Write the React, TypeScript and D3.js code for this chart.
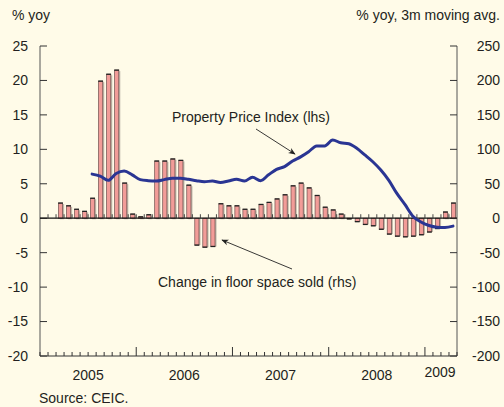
import React from "react";
import * as d3 from "d3";

const monthCount = 52; // Jan 2005 - Apr 2009
const yearLabels = ["2005", "2006", "2007", "2008", "2009"];
const leftTicks = [25, 20, 15, 10, 5, 0, -5, -10, -15, -20];
const rightTicks = [250, 200, 150, 100, 50, 0, -50, -100, -150, -200];

// Change in floor space sold (% yoy, 3m moving avg, rhs)
const floorSpace: (number | null)[] = [
  null, null, 22, 18, 13, 10, 29, 199, 209, 215, 51, 6,
  2, 5, 83, 83, 86, 84, 48, -39, -42, -41, 21, 18,
  18, 13, 13, 20, 23, 28, 34, 47, 51, 44, 33, 16,
  12, 6, -1, -5, -9, -11, -16, -23, -26, -27, -26, -24,
  -20, -15, 9, 22,
];

// Property price index (% yoy, lhs)
const priceIndex: (number | null)[] = [
  null, null, null, null, null, null, 6.4, 6.1, 5.5, 6.5, 6.85, 6.3,
  5.6, 5.45, 5.4, 5.6, 5.8, 5.8, 5.65, 5.45, 5.3, 5.4, 5.2, 5.4,
  5.65, 5.4, 5.95, 5.45, 6.3, 7.1, 7.5, 8.3, 8.9, 9.65, 10.5, 10.5,
  11.35, 10.95, 10.8, 10.15, 9.2, 8.2, 7.0, 5.5, 3.6, 2.0, 0.3, -0.55,
  -1.05, -1.3, -1.35, -1.15,
];

const W = 504;
const H = 407;
const left = 40;
const right = 457;
const top = 46;
const bottom = 356;
const font = "'Liberation Sans', Arial, Helvetica, sans-serif";
const textColor = "#231f20";
const fs = 14;

export default function App() {
  const x = d3.scaleLinear().domain([0, monthCount]).range([left, right]);
  const yL = d3.scaleLinear().domain([-20, 25]).range([bottom, top]);
  const yR = d3.scaleLinear().domain([-200, 250]).range([bottom, top]);
  const bw = 4.2;

  const lineGen = d3
    .line<number | null>()
    .defined((d) => d !== null)
    .x((_, i) => x(i + 0.5))
    .y((d) => yL(d as number))
    .curve(d3.curveMonotoneX);

  const monthIdx = d3.range(monthCount + 1);
  const zeroY = yR(0);

  return (
    <svg
      width={W}
      height={H}
      style={{ position: "fixed", left: 0, top: 0, background: "#fffbe8" }}
      fontFamily={font}
    >
      <defs>
        <marker id="arr" viewBox="0 0 10 10" refX="9" refY="5" markerWidth="8" markerHeight="8" orient="auto-start-reverse">
          <path d="M0,1 L10,5 L0,9 L3,5 Z" fill="#222" />
        </marker>
      </defs>
      <rect x={0} y={0} width={W} height={H} fill="#fffbe8" />

      {/* headers */}
      <text x={12} y={20} fontSize={fs} fill={textColor}>% yoy</text>
      <text x={500} y={20} fontSize={fs} fill={textColor} textAnchor="end">% yoy, 3m moving avg.</text>

      {/* left axis */}
      <line x1={left} x2={left} y1={top} y2={bottom} stroke="#555" strokeWidth={1} />
      {leftTicks.map((t) => (
        <g key={"l" + t}>
          <line x1={left} x2={left + 7} y1={yL(t)} y2={yL(t)} stroke="#333" strokeWidth={1} />
          <text x={28} y={yL(t)} dy="0.35em" fontSize={fs} textAnchor="end" fill={textColor}>{t}</text>
        </g>
      ))}

      {/* right axis */}
      <line x1={right} x2={right} y1={top} y2={bottom} stroke="#555" strokeWidth={1} />
      {rightTicks.map((t) => (
        <g key={"r" + t}>
          <line x1={right - 7} x2={right} y1={yR(t)} y2={yR(t)} stroke="#333" strokeWidth={1} />
          <text x={500} y={yR(t)} dy="0.35em" fontSize={fs} textAnchor="end" fill={textColor}>{t}</text>
        </g>
      ))}

      {/* bottom axis */}
      <line x1={left} x2={right} y1={bottom} y2={bottom} stroke="#333" strokeWidth={1} />
      {monthIdx.map((i) => (
        <line
          key={"bt" + i}
          x1={x(i)}
          x2={x(i)}
          y1={bottom}
          y2={bottom - (i % 12 === 0 && i > 0 && i < monthCount ? 9 : 4)}
          stroke="#333"
          strokeWidth={1}
        />
      ))}
      {yearLabels.map((yl, k) => {
        const s = k * 12;
        const e = Math.min(s + 12, monthCount);
        const cx = (x(s) + x(e)) / 2 + (k === 4 ? -1 : 0);
        return (
          <text key={yl} x={cx} y={k === 4 ? 372 : 375} dy="0.35em" fontSize={fs} textAnchor="middle" fill={textColor}>
            {yl}
          </text>
        );
      })}

      {/* bars */}
      {floorSpace.map((v, i) => {
        if (v === null) return null;
        const cx = x(i + 0.5) + 0.5;
        const y0 = yR(0);
        const y1 = yR(v);
        const yTop = Math.min(y0, y1);
        const h = Math.abs(y1 - y0);
        return (
          <g key={"b" + i}>
            <rect x={cx - bw / 2 + 1.5} y={yTop + (v > 0 ? 1 : 0)} width={bw} height={h} fill="#a89f92" opacity={0.75} />
            <rect x={cx - bw / 2} y={yTop} width={bw} height={h} fill="#f29c98" stroke="#6e4e4c" strokeWidth={0.7} />
            <line x1={cx - bw / 2 - 0.3} x2={cx + bw / 2 + 0.3} y1={y1} y2={y1} stroke="#222" strokeWidth={1.3} />
          </g>
        );
      })}

      {/* zero line with month ticks */}
      <line x1={left} x2={right} y1={zeroY} y2={zeroY} stroke="#111" strokeWidth={1.2} />
      {monthIdx.slice(1, monthCount).map((i) => (
        <line key={"zt" + i} x1={x(i)} x2={x(i)} y1={zeroY} y2={zeroY - 4} stroke="#333" strokeWidth={0.9} />
      ))}

      {/* price index line */}
      <path d={lineGen(priceIndex) || ""} fill="none" stroke="#2a3593" strokeWidth={3} strokeLinejoin="round" strokeLinecap="round" />

      {/* annotations */}
      <text x={172} y={117} dy="0.35em" fontSize={fs} fill={textColor}>Property Price Index (lhs)</text>
      <line x1={256} y1={129} x2={295} y2={154} stroke="#222" strokeWidth={0.9} markerEnd="url(#arr)" />
      <text x={158} y={282} dy="0.35em" fontSize={fs} fill={textColor}>Change in floor space sold (rhs)</text>
      <line x1={292} y1={269} x2={222} y2={240} stroke="#222" strokeWidth={0.9} markerEnd="url(#arr)" />

      {/* source */}
      <text x={39} y={398} dy="0.35em" fontSize={fs} fill={textColor}>Source: CEIC.</text>
    </svg>
  );
}
